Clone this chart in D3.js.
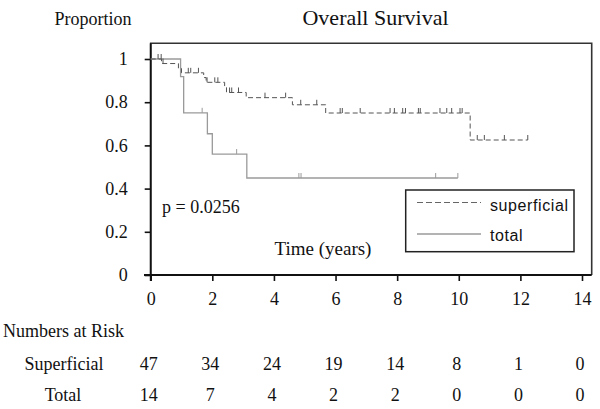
<!DOCTYPE html>
<html>
<head>
<meta charset="utf-8">
<script src="https://cdn.jsdelivr.net/npm/d3@7"></script>
<style>
  html, body { margin: 0; padding: 0; background: #fff; }
  svg { display: block; }
  .serif { font-family: "Liberation Serif", "Times New Roman", serif; fill: #111; }
</style>
</head>
<body>
<svg id="chart" width="600" height="409"></svg>
<script>
// ---- data ----
const yTicks = [0, 0.2, 0.4, 0.6, 0.8, 1];
const xTicks = [0, 2, 4, 6, 8, 10, 12, 14];

// superficial: step times and survival after each step
const supTimes = [0, 0.35, 0.90, 1.00, 1.72, 1.80, 2.40, 2.46, 3.10, 4.60, 5.68, 10.37];
const supSurv  = [1, 0.979, 0.957, 0.936, 0.914, 0.892, 0.868, 0.845, 0.821, 0.788, 0.750, 0.625];
const supEnd = 12.24;
const supCensor = [0.24, 0.34, 0.40, 1.22, 1.30, 1.55, 1.83, 2.08, 2.18, 2.56, 2.63, 2.85,
                   3.71, 4.38, 4.87, 5.39, 6.15, 6.22, 6.80, 7.77, 7.91, 8.18, 8.27, 8.69,
                   8.75, 9.39, 9.61, 9.77, 10.04, 10.11, 10.60, 10.83, 11.48, 12.24];

// total: step times and survival after each step
const totTimes = [0, 0.97, 1.07, 1.84, 2.00, 3.12];
const totSurv  = [1, 0.918, 0.751, 0.654, 0.560, 0.449];
const totEnd = 9.97;
const totCensor = [1.67, 2.79, 4.81, 4.88, 9.25, 9.97];

const riskTimes = [0, 2, 4, 6, 8, 10, 12, 14];
const riskSuperficial = [47, 34, 24, 19, 14, 8, 1, 0];
const riskTotal = [14, 7, 4, 2, 2, 0, 0, 0];

// ---- drawing ----
const svg = d3.select("#chart");
const x = d3.scaleLinear().domain([0, 14]).range([150.7, 582]);
const y = d3.scaleLinear().domain([0, 1]).range([275, 59]);
const xRight = x.invert(591.7);

// frame (top & right)
svg.append("path")
  .attr("d", `M${x(0)},${y(0)} V43.3 H${x(xRight)} V${y(0)}`)
  .attr("fill", "none").attr("stroke", "#333").attr("stroke-width", 1.6);

// y axis
const yAxis = svg.append("g").attr("transform", `translate(${x(0)},0)`)
  .call(d3.axisLeft(y).tickValues(yTicks).tickFormat(d3.format("~g")).tickSize(6).tickPadding(17));
yAxis.select(".domain").remove();
yAxis.selectAll(".tick line").attr("stroke", "#111").attr("stroke-width", 1.6);
yAxis.selectAll("text").attr("class", "serif").style("font-size", "18px").attr("fill", "#111");
yAxis.attr("font-family", null).attr("font-size", null);

// x axis
const xAxis = svg.append("g").attr("transform", `translate(0,${y(0)})`)
  .call(d3.axisBottom(x).tickValues(xTicks).tickFormat(d3.format("d")).tickSize(6).tickPadding(11));
xAxis.select(".domain").remove();
xAxis.selectAll(".tick line").attr("stroke", "#111").attr("stroke-width", 1.6);
xAxis.selectAll("text").attr("class", "serif").style("font-size", "18px").attr("fill", "#111");
xAxis.attr("font-family", null).attr("font-size", null);

// axis lines
svg.append("line").attr("x1", 144).attr("x2", x(xRight)).attr("y1", y(0)).attr("y2", y(0))
  .attr("stroke", "#111").attr("stroke-width", 1.8);
svg.append("line").attr("x1", x(0)).attr("x2", x(0)).attr("y1", 43.3).attr("y2", y(0) + 6)
  .attr("stroke", "#111").attr("stroke-width", 1.8);

// step curves
function stepData(times, surv, end) {
  const pts = times.map((t, i) => [t, surv[i]]);
  pts.push([end, surv[surv.length - 1]]);
  return pts;
}
const line = d3.line().x(d => x(d[0])).y(d => y(d[1])).curve(d3.curveStepAfter);

function survAt(times, surv, t) {
  let s = surv[0];
  for (let i = 0; i < times.length; i++) if (times[i] <= t) s = surv[i];
  return s;
}

// total (solid, light gray)
svg.append("path").datum(stepData(totTimes, totSurv, totEnd))
  .attr("d", line).attr("fill", "none").attr("stroke", "#9a9a9a").attr("stroke-width", 1.3);
svg.append("g").selectAll("line").data(totCensor).join("line")
  .attr("x1", d => x(d)).attr("x2", d => x(d))
  .attr("y1", d => y(survAt(totTimes, totSurv, d))).attr("y2", d => y(survAt(totTimes, totSurv, d)) - 5)
  .attr("stroke", "#9a9a9a").attr("stroke-width", 1);

// superficial (dashed, darker gray)
svg.append("path").datum(stepData(supTimes, supSurv, supEnd))
  .attr("d", line).attr("fill", "none").attr("stroke", "#555").attr("stroke-width", 1)
  .attr("stroke-dasharray", "5,3");
svg.append("g").selectAll("line").data(supCensor).join("line")
  .attr("x1", d => x(d)).attr("x2", d => x(d))
  .attr("y1", d => y(survAt(supTimes, supSurv, d))).attr("y2", d => y(survAt(supTimes, supSurv, d)) - 5)
  .attr("stroke", "#555").attr("stroke-width", 1);

// titles
svg.append("text").attr("class", "serif").attr("x", 375.5).attr("y", 25)
  .attr("text-anchor", "middle").style("font-size", "22px").text("Overall Survival");
svg.append("text").attr("class", "serif").attr("x", 93).attr("y", 25)
  .attr("text-anchor", "middle").style("font-size", "18px").text("Proportion");
svg.append("text").attr("class", "serif").attr("x", 162).attr("y", 213)
  .style("font-size", "18px").text("p = 0.0256");
svg.append("text").attr("class", "serif").attr("x", 323).attr("y", 255)
  .attr("text-anchor", "middle").style("font-size", "19px").text("Time (years)");

// legend
svg.append("rect").attr("x", 405.7).attr("y", 190).attr("width", 168.3).attr("height", 61.7)
  .attr("fill", "#fff").attr("stroke", "#222").attr("stroke-width", 1.5);
svg.append("line").attr("x1", 417).attr("x2", 481).attr("y1", 202.5).attr("y2", 202.5)
  .attr("stroke", "#666").attr("stroke-width", 1.2).attr("stroke-dasharray", "6,3");
svg.append("line").attr("x1", 417).attr("x2", 481).attr("y1", 234).attr("y2", 234)
  .attr("stroke", "#9a9a9a").attr("stroke-width", 1.3);
svg.append("text").attr("x", 490).attr("y", 211)
  .style("font-family", "'Liberation Sans', Arial, sans-serif").style("font-size", "16px")
  .style("letter-spacing", "0.6px").attr("fill", "#111").text("superficial");
svg.append("text").attr("x", 490).attr("y", 241)
  .style("font-family", "'Liberation Sans', Arial, sans-serif").style("font-size", "16px")
  .style("letter-spacing", "0.6px").attr("fill", "#111").text("total");

// numbers at risk
svg.append("text").attr("class", "serif").attr("x", 3).attr("y", 337)
  .style("font-size", "18px").text("Numbers at Risk");
svg.append("text").attr("class", "serif").attr("x", 64).attr("y", 370)
  .attr("text-anchor", "middle").style("font-size", "18px").text("Superficial");
svg.append("text").attr("class", "serif").attr("x", 63).attr("y", 401)
  .attr("text-anchor", "middle").style("font-size", "18px").text("Total");
svg.append("g").selectAll("text").data(riskSuperficial).join("text")
  .attr("class", "serif").attr("x", (d, i) => x(riskTimes[i]) - 2).attr("y", 370)
  .attr("text-anchor", "middle").style("font-size", "18px").text(d => d);
svg.append("g").selectAll("text").data(riskTotal).join("text")
  .attr("class", "serif").attr("x", (d, i) => x(riskTimes[i]) - 2).attr("y", 401)
  .attr("text-anchor", "middle").style("font-size", "18px").text(d => d);
</script>
</body>
</html>
